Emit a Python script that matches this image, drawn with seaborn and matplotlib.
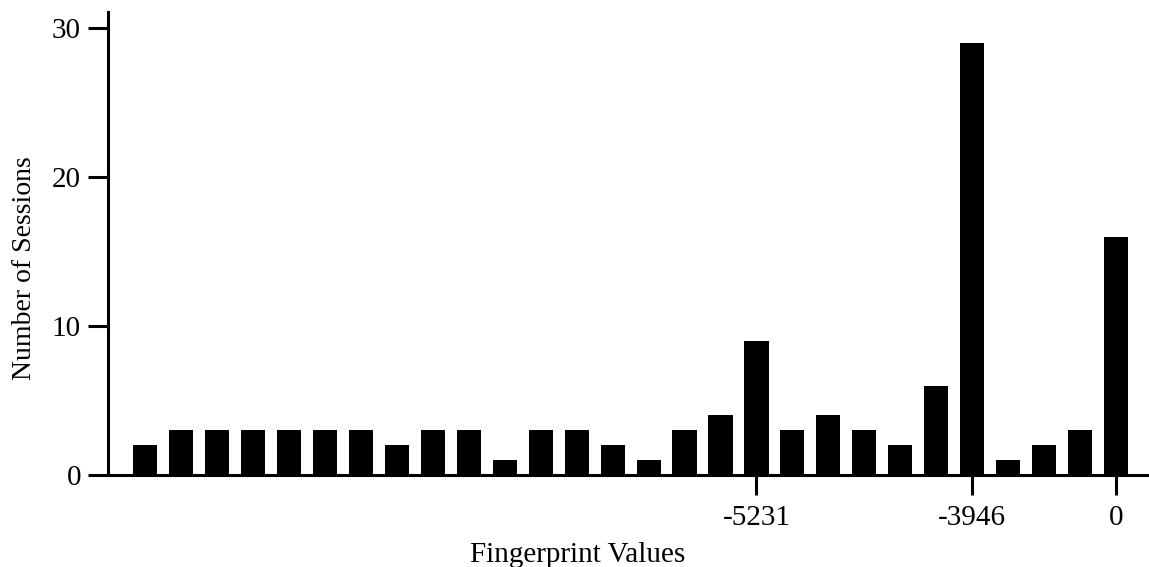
import matplotlib
matplotlib.use("Agg")
import matplotlib.pyplot as plt
import seaborn as sns
import pandas as pd

# Histogram of sessions per fingerprint bin
bin_index = list(range(28))
sessions = [2, 3, 3, 3, 3, 3, 3, 2, 3, 3, 1, 3, 3, 2, 1, 3, 4, 9, 3, 4, 3, 2, 6, 29, 1, 2, 3, 16]
labelled_bins = [17, 23, 27]
labelled_values = ["-5231", "-3946", "0"]
y_ticks = [0, 10, 20, 30]

sns.set_theme(style="white")
plt.rcParams["font.family"] = ["Liberation Serif", "DejaVu Serif"]

df = pd.DataFrame({"bin": bin_index, "sessions": sessions})

fig = plt.figure(figsize=(11.49, 5.67), dpi=100)
ax = fig.add_axes([0.094, 0.1623, 0.904, 0.817])

sns.barplot(data=df, x="bin", y="sessions", color="black", width=0.67,
            saturation=1, ax=ax, edgecolor="none")

ax.set_xlim(-1.03, 27.85)
ax.set_ylim(0, 31.1)

ax.set_xticks(labelled_bins)
ax.set_xticklabels(labelled_values)
ax.set_yticks(y_ticks)

for side in ("top", "right"):
    ax.spines[side].set_visible(False)
for side in ("left", "bottom"):
    ax.spines[side].set_linewidth(2.2)
    ax.spines[side].set_color("black")

ax.tick_params(axis="both", which="major", direction="out", length=14.5, width=2.2,
               colors="black", labelsize=21)
ax.tick_params(axis="x", bottom=True, pad=7)
ax.tick_params(axis="y", left=True, pad=5)

ax.set_xlabel("Fingerprint Values", fontsize=21, color="black")
ax.set_ylabel("Number of Sessions", fontsize=20, color="black")
ax.xaxis.set_label_coords(0.452, -0.145)
ax.yaxis.set_label_coords(-0.068, 0.447)

fig.savefig("out.png", dpi=100)
